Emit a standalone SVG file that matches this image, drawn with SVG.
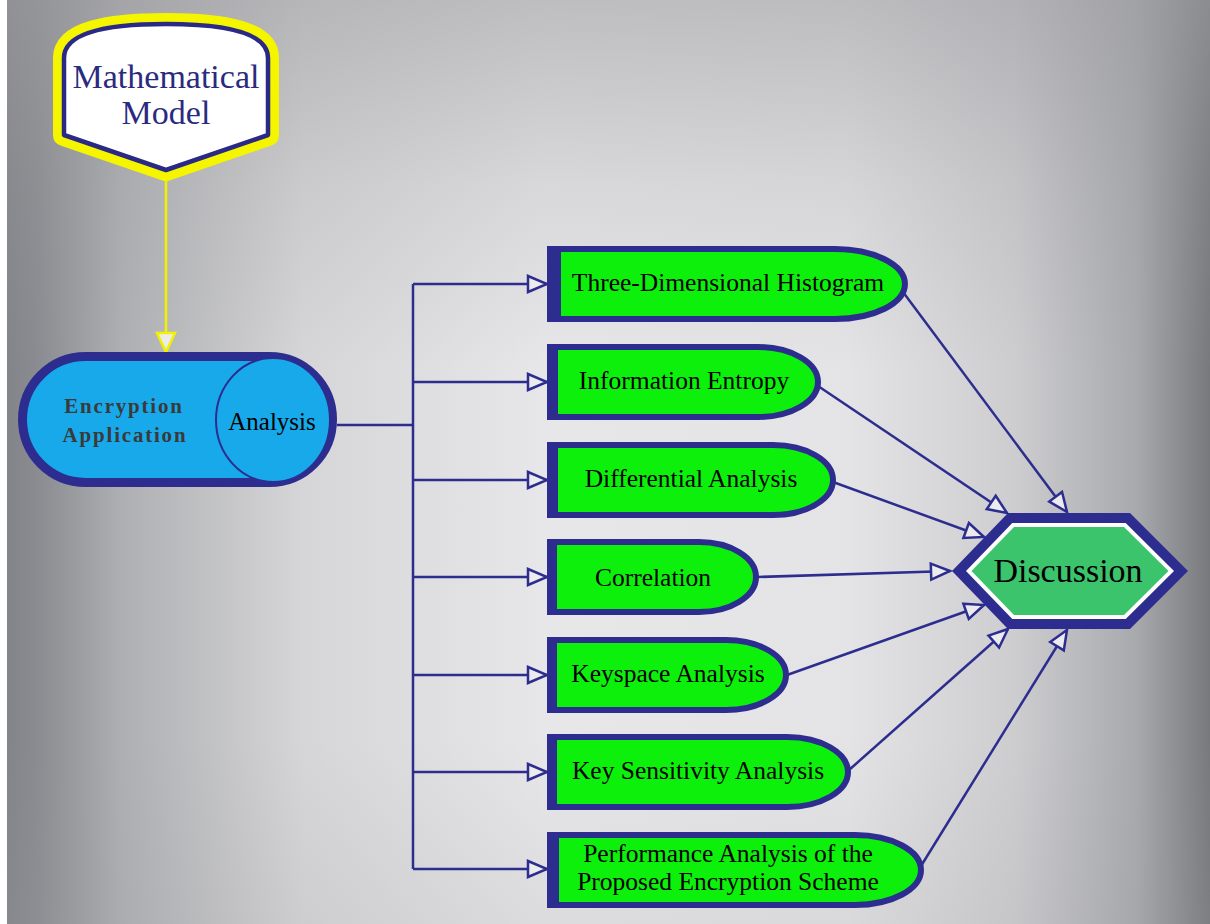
<svg xmlns="http://www.w3.org/2000/svg" width="1210" height="924" viewBox="0 0 1210 924">
  <defs>
    <linearGradient id="bgH" x1="0" y1="0" x2="1210" y2="0" gradientUnits="userSpaceOnUse">
      <stop offset="0" stop-color="#828388"/>
      <stop offset="0.03" stop-color="#8a8b90"/>
      <stop offset="0.1" stop-color="#aeafb2"/>
      <stop offset="0.25" stop-color="#d6d6d8"/>
      <stop offset="0.45" stop-color="#e7e7e9"/>
      <stop offset="0.7" stop-color="#e4e4e6"/>
      <stop offset="0.84" stop-color="#cdcdd0"/>
      <stop offset="0.94" stop-color="#a8a9ac"/>
      <stop offset="1" stop-color="#77797d"/>
    </linearGradient>
    <linearGradient id="bgV" x1="0" y1="0" x2="0" y2="924" gradientUnits="userSpaceOnUse">
      <stop offset="0" stop-color="#9c9ca0" stop-opacity="0.55"/>
      <stop offset="0.2" stop-color="#9c9ca0" stop-opacity="0.2"/>
      <stop offset="0.4" stop-color="#9c9ca0" stop-opacity="0"/>
      <stop offset="0.8" stop-color="#9c9ca0" stop-opacity="0"/>
      <stop offset="1" stop-color="#9c9ca0" stop-opacity="0.15"/>
    </linearGradient>
    <marker id="arrN" markerUnits="userSpaceOnUse" markerWidth="24" markerHeight="20" viewBox="0 0 24 20" refX="21" refY="10" orient="auto">
      <path d="M2,2 L21,10 L2,18 Z" fill="#ececee" stroke="#2d2d8f" stroke-width="2.5" stroke-linejoin="miter"/>
    </marker>
    <marker id="arrY" markerUnits="userSpaceOnUse" markerWidth="24" markerHeight="22" viewBox="0 0 24 22" refX="21" refY="11" orient="auto">
      <path d="M2,2 L21,11 L2,20 Z" fill="#ececee" stroke="#f2f200" stroke-width="2.5"/>
    </marker>
    <style>
      .lbl { font-family: "Liberation Serif", "Times New Roman", serif; font-size: 25.5px; fill: #000; text-anchor: middle; }
      .conn { fill: none; stroke: #2d2d8f; stroke-width: 2.5; }
      .gbody { fill: #0cf00c; stroke: #2d2d8f; stroke-width: 6; }
      .gbar { fill: #2d2d8f; }
    </style>
  </defs>

  <rect x="0" y="0" width="1210" height="924" fill="url(#bgH)"/>
  <rect x="0" y="0" width="1210" height="924" fill="url(#bgV)"/>
  <rect x="0" y="0" width="7" height="924" fill="#ffffff"/>

  <g id="connectors">
    <line x1="166" y1="178" x2="166" y2="352" stroke="#f2f200" stroke-width="2.5" marker-end="url(#arrY)"/>
    <polyline class="conn" points="337,425 413,425"/>
    <line class="conn" x1="413" y1="284" x2="413" y2="869"/>
    <line class="conn" x1="413" y1="284" x2="547" y2="284" marker-end="url(#arrN)"/>
    <line class="conn" x1="413" y1="382" x2="547" y2="382" marker-end="url(#arrN)"/>
    <line class="conn" x1="413" y1="480" x2="547" y2="480" marker-end="url(#arrN)"/>
    <line class="conn" x1="413" y1="577" x2="547" y2="577" marker-end="url(#arrN)"/>
    <line class="conn" x1="413" y1="675" x2="547" y2="675" marker-end="url(#arrN)"/>
    <line class="conn" x1="413" y1="772" x2="547" y2="772" marker-end="url(#arrN)"/>
    <line class="conn" x1="413" y1="869" x2="547" y2="869" marker-end="url(#arrN)"/>
    <line class="conn" x1="903" y1="292" x2="1067" y2="512" marker-end="url(#arrN)"/>
    <line class="conn" x1="818" y1="386" x2="1007" y2="513" marker-end="url(#arrN)"/>
    <line class="conn" x1="833" y1="482" x2="984" y2="537" marker-end="url(#arrN)"/>
    <line class="conn" x1="758" y1="577" x2="950" y2="571" marker-end="url(#arrN)"/>
    <line class="conn" x1="787" y1="675" x2="984" y2="605" marker-end="url(#arrN)"/>
    <line class="conn" x1="849" y1="770" x2="1008" y2="629" marker-end="url(#arrN)"/>
    <line class="conn" x1="921" y1="866" x2="1067" y2="630" marker-end="url(#arrN)"/>
  </g>

  <g id="mathematical-model">
    <path d="M64 135 L64 58 C64 32 108 24 166 24 C224 24 268 32 268 58 L268 135 L166 170 Z" fill="none" stroke="#f5f500" stroke-width="22" stroke-linejoin="round"/>
    <path d="M64 135 L64 58 C64 32 108 24 166 24 C224 24 268 32 268 58 L268 135 L166 170 Z" fill="#ffffff" stroke="#2a2a86" stroke-width="4.5" stroke-linejoin="round"/>
    <text x="166" y="88" text-anchor="middle" font-family="'Liberation Serif', 'Times New Roman', serif" font-size="34" fill="#2a2a80">Mathematical</text>
    <text x="166" y="124" text-anchor="middle" font-family="'Liberation Serif', 'Times New Roman', serif" font-size="34" fill="#2a2a80">Model</text>
  </g>

  <g id="encryption-application">
    <rect x="22.5" y="356.5" width="310" height="126" rx="63" ry="63" fill="#17a9ea" stroke="#2d2d8f" stroke-width="9"/>
    <ellipse cx="273" cy="420" rx="57" ry="62" fill="#17a9ea" stroke="#2d2d8f" stroke-width="2"/>
    <text x="124" y="413" text-anchor="middle" font-family="'Liberation Serif', 'Times New Roman', serif" font-size="21" font-weight="bold" letter-spacing="1.8" fill="#3a3a3a">Encryption</text>
    <text x="125" y="442" text-anchor="middle" font-family="'Liberation Serif', 'Times New Roman', serif" font-size="21" font-weight="bold" letter-spacing="1.8" fill="#3a3a3a">Application</text>
    <text x="272" y="430" text-anchor="middle" font-family="'Liberation Serif', 'Times New Roman', serif" font-size="25" fill="#000">Analysis</text>
  </g>

  <g id="node-histogram">
    <path class="gbody" d="M550 249 H835 A70 35 0 0 1 835 319 H550 Z"/>
    <rect class="gbar" x="547" y="246" width="14" height="76"/>
    <text class="lbl" x="728" y="291">Three-Dimensional Histogram</text>
  </g>

  <g id="node-entropy">
    <path class="gbody" d="M550 347 H758 A60 35 0 0 1 758 417 H550 Z"/>
    <rect class="gbar" x="547" y="344" width="11" height="76"/>
    <text class="lbl" x="684" y="389">Information Entropy</text>
  </g>

  <g id="node-differential">
    <path class="gbody" d="M550 445 H773 A60 35 0 0 1 773 515 H550 Z"/>
    <rect class="gbar" x="547" y="442" width="11" height="76"/>
    <text class="lbl" x="691" y="487">Differential Analysis</text>
  </g>

  <g id="node-correlation">
    <path class="gbody" d="M550 542 H699 A57 35 0 0 1 699 612 H550 Z"/>
    <rect class="gbar" x="547" y="539" width="10" height="76"/>
    <text class="lbl" x="653" y="586">Correlation</text>
  </g>

  <g id="node-keyspace">
    <path class="gbody" d="M550 640 H726 A60 35 0 0 1 726 710 H550 Z"/>
    <rect class="gbar" x="547" y="637" width="10" height="76"/>
    <text class="lbl" x="668" y="682">Keyspace Analysis</text>
  </g>

  <g id="node-key-sensitivity">
    <path class="gbody" d="M550 737 H787 A61 35 0 0 1 787 807 H550 Z"/>
    <rect class="gbar" x="547" y="734" width="10" height="76"/>
    <text class="lbl" x="698" y="779">Key Sensitivity Analysis</text>
  </g>

  <g id="node-performance">
    <path class="gbody" d="M550 835 H855 A66 35 0 0 1 855 905 H550 Z"/>
    <rect class="gbar" x="547" y="832" width="12" height="76"/>
    <text class="lbl" x="728" y="862">Performance Analysis of the</text>
    <text class="lbl" x="728" y="890">Proposed Encryption Scheme</text>
  </g>

  <g id="discussion">
    <polygon points="952,571 1008,513 1130,513 1188,571 1130,629 1008,629" fill="#2d2d8f"/>
    <polygon points="966,571 1012.3,523 1125.7,523 1174,571 1125.7,619 1012.3,619" fill="#ffffff"/>
    <polygon points="971.5,571 1014,527 1124,527 1168.5,571 1124,615 1014,615" fill="#3cc46c"/>
    <text x="1068" y="582" text-anchor="middle" font-family="'Liberation Serif', 'Times New Roman', serif" font-size="34" fill="#000">Discussion</text>
  </g>
</svg>
